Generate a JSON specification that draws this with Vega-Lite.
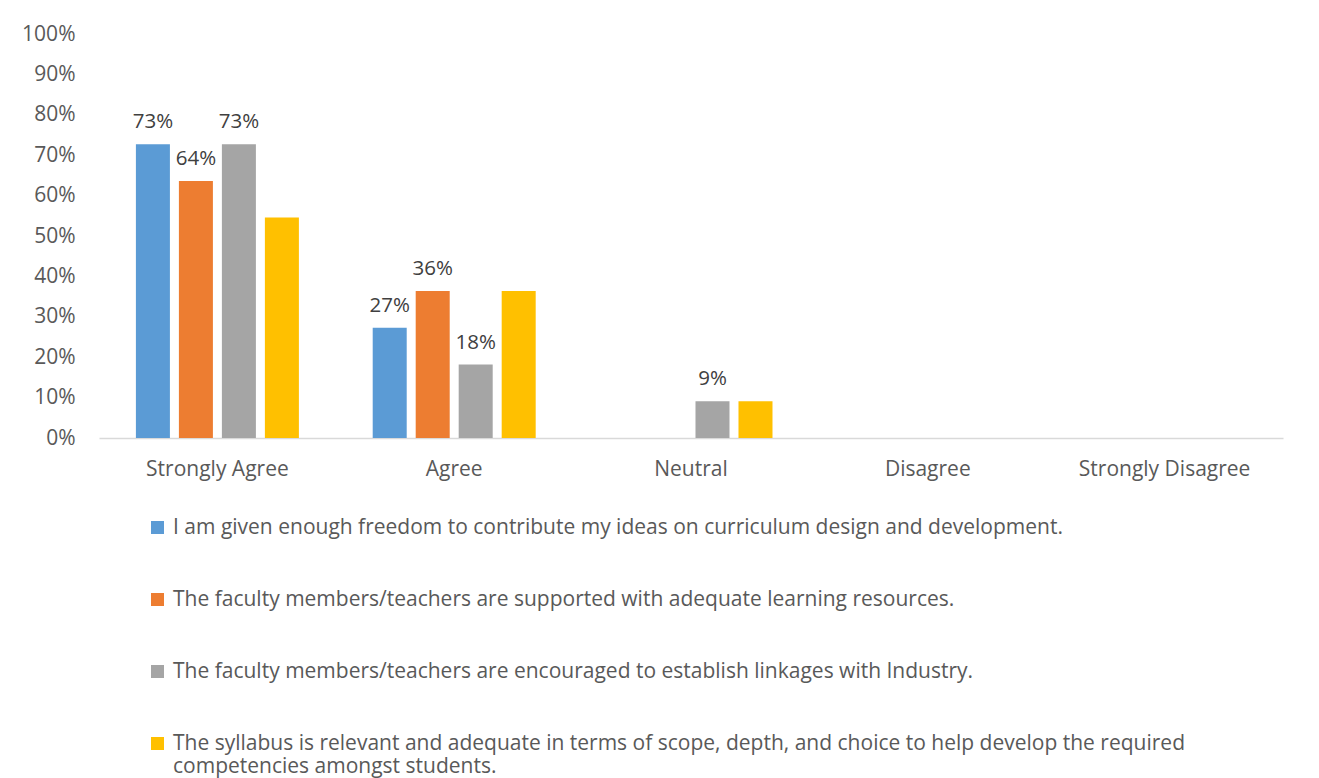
{
  "$schema": "https://vega.github.io/schema/vega-lite/v6.json",
  "width": 1184,
  "height": 404,
  "autosize": {"type": "none"},
  "padding": {"left": 99, "top": 34, "right": 36, "bottom": 340},
  "background": "white",
  "config": {
    "view": {"stroke": null},
    "font": "Open Sans",
    "text": {"font": "Open Sans"}
  },
  "data": {
    "values": [
      {"category": "Strongly Agree", "series": "I am given enough freedom to contribute my ideas on curriculum design and development.", "value": 0.7273},
      {"category": "Strongly Agree", "series": "The faculty members/teachers are supported with adequate learning resources.", "value": 0.6364},
      {"category": "Strongly Agree", "series": "The faculty members/teachers are encouraged to establish linkages with Industry.", "value": 0.7273},
      {"category": "Strongly Agree", "series": "The syllabus is relevant and adequate in terms of scope, depth, and choice to help develop the required competencies amongst students.", "value": 0.5455},
      {"category": "Agree", "series": "I am given enough freedom to contribute my ideas on curriculum design and development.", "value": 0.2727},
      {"category": "Agree", "series": "The faculty members/teachers are supported with adequate learning resources.", "value": 0.3636},
      {"category": "Agree", "series": "The faculty members/teachers are encouraged to establish linkages with Industry.", "value": 0.1818},
      {"category": "Agree", "series": "The syllabus is relevant and adequate in terms of scope, depth, and choice to help develop the required competencies amongst students.", "value": 0.3636},
      {"category": "Neutral", "series": "I am given enough freedom to contribute my ideas on curriculum design and development.", "value": 0},
      {"category": "Neutral", "series": "The faculty members/teachers are supported with adequate learning resources.", "value": 0},
      {"category": "Neutral", "series": "The faculty members/teachers are encouraged to establish linkages with Industry.", "value": 0.0909},
      {"category": "Neutral", "series": "The syllabus is relevant and adequate in terms of scope, depth, and choice to help develop the required competencies amongst students.", "value": 0.0909},
      {"category": "Disagree", "series": "I am given enough freedom to contribute my ideas on curriculum design and development.", "value": 0},
      {"category": "Disagree", "series": "The faculty members/teachers are supported with adequate learning resources.", "value": 0},
      {"category": "Disagree", "series": "The faculty members/teachers are encouraged to establish linkages with Industry.", "value": 0},
      {"category": "Disagree", "series": "The syllabus is relevant and adequate in terms of scope, depth, and choice to help develop the required competencies amongst students.", "value": 0},
      {"category": "Strongly Disagree", "series": "I am given enough freedom to contribute my ideas on curriculum design and development.", "value": 0},
      {"category": "Strongly Disagree", "series": "The faculty members/teachers are supported with adequate learning resources.", "value": 0},
      {"category": "Strongly Disagree", "series": "The faculty members/teachers are encouraged to establish linkages with Industry.", "value": 0},
      {"category": "Strongly Disagree", "series": "The syllabus is relevant and adequate in terms of scope, depth, and choice to help develop the required competencies amongst students.", "value": 0}
    ]
  },
  "encoding": {
    "x": {
      "field": "category", "type": "nominal", "sort": null,
      "scale": {"paddingInner": 0.3117, "paddingOuter": 0.15585},
      "axis": {"title": null, "labelAngle": 0, "ticks": false, "domainColor": "#D9D9D9", "domainWidth": 1.5,
               "labelFontSize": 21, "labelColor": "#595959", "labelPadding": 20, "labelFont": "Open Sans"}
    },
    "xOffset": {"field": "series", "type": "nominal", "sort": null, "scale": {"paddingInner": 0.209, "paddingOuter": 0}},
    "y": {
      "field": "value", "type": "quantitative",
      "scale": {"domain": [0, 1]},
      "axis": {"title": null, "format": ".0%", "values": [0,0.1,0.2,0.3,0.4,0.5,0.6,0.7,0.8,0.9,1],
               "labelOverlap": false, "labelBound": false,
               "grid": false, "domain": false, "ticks": false, "labelFontSize": 21, "labelColor": "#595959",
               "labelPadding": 24, "labelFont": "Open Sans"}
    }
  },
  "layer": [
    {
      "mark": {"type": "bar"},
      "encoding": {
        "color": {
          "field": "series", "type": "nominal", "sort": null,
          "scale": {"range": ["#5B9BD5", "#ED7D31", "#A5A5A5", "#FFC000"]},
          "legend": {
            "title": null, "orient": "none", "legendX": 48, "legendY": 483, "direction": "vertical",
            "symbolType": "square", "symbolSize": 169, "symbolStrokeWidth": 0,
            "labelFontSize": 21, "labelColor": "#595959", "labelFont": "Open Sans", "labelLimit": 1200,
            "rowPadding": 50, "labelOffset": 5,
            "labelExpr": "indexof(datum.label, 'The syllabus') == 0 ? ['The syllabus is relevant and adequate in terms of scope, depth, and choice to help develop the required', 'competencies amongst students.'] : datum.label"
          }
        }
      }
    },
    {
      "transform": [
        {"filter": "datum.value > 0 && indexof(datum.series, 'The syllabus') != 0"}
      ],
      "mark": {"type": "text", "baseline": "bottom", "dy": -12, "fontSize": 20.5, "color": "#404040", "font": "Open Sans"},
      "encoding": {
        "text": {"field": "value", "type": "quantitative", "format": ".0%"}
      }
    }
  ]
}
